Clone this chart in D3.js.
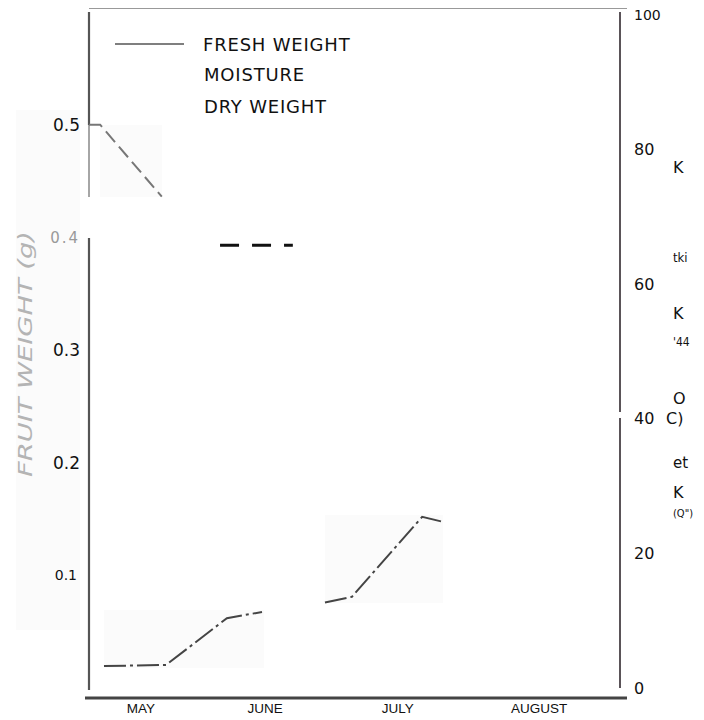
<!DOCTYPE html>
<html>
<head>
<meta charset="utf-8">
<script src="https://cdn.jsdelivr.net/npm/d3@7"></script>
<style>
  body { margin: 0; background: #fff; }
  svg { display: block; font-family: "DejaVu Sans", Verdana, sans-serif; }
</style>
</head>
<body>
<div id="chart"></div>
<script>
// Chart data
const months = ["MAY", "JUNE", "JULY", "AUGUST"];
const monthDays = [12, 41, 72, 105];          // label position, days from May 1
const weightTicks = [0.1, 0.2, 0.3, 0.4, 0.5];
const moistureTicks = [0, 20, 40, 60, 80, 100];

// moisture (%), null = break in the line
const moistureDays = [0, 2.6, 17, null, 30.6, 47.6];
const moistureVals = [83.7, 83.7, 73.0, null, 65.8, 65.8];

// dry weight (g)
const dryDays = [3.5, 18, 32.2, 40.4, null, 55.1, 61.4, 77.8, 82.2];
const dryVals = [0.0195, 0.0205, 0.062, 0.0675, null, 0.076, 0.081, 0.152, 0.148];

const legendItems = ["FRESH WEIGHT", "MOISTURE", "DRY WEIGHT"];
const rightNotes = [
    { t: "K", v: 77.4, s: 16 }, { t: "tki", v: 64, s: 13 }, { t: "K", v: 55.7, s: 16 },
    { t: "'44", v: 51.4, s: 12 }, { t: "O", v: 43, s: 16 }, { t: "et", v: 33.4, s: 15 },
    { t: "K", v: 29, s: 16 }, { t: "(Q\")", v: 26, s: 11 }
];

let width = 704, height = 720;

const svg = d3.select("#chart").append("svg")
    .attr("width", width)
    .attr("height", height);

const x = d3.scaleLinear().domain([0, 124]).range([89, 620]);
const yLeft = d3.scaleLinear().domain([0, 0.5]).range([688, 125]);
const yRight = d3.scaleLinear().domain([0, 100]).range([688, 15]);

// faint scan patches
const patches = [[16, 110, 64, 520], [104, 610, 160, 58], [325, 515, 118, 88], [100, 125, 62, 72]];
svg.selectAll(".patch").data(patches).join("rect")
    .attr("class", "patch")
    .attr("x", d => d[0]).attr("y", d => d[1])
    .attr("width", d => d[2]).attr("height", d => d[3])
    .attr("fill", "#fbfbfb");

// frame lines
svg.append("line").attr("x1", 89).attr("x2", 627).attr("y1", 8.5).attr("y2", 8.5)
    .attr("stroke", "#999").attr("stroke-width", 1.2);
const leftSegs = [[12, 125, "#555", 2.2], [125, 197, "#888", 1.5], [238, 690, "#555", 2.2]];
svg.selectAll(".lseg").data(leftSegs).join("line")
    .attr("class", "lseg")
    .attr("x1", 89).attr("x2", 89)
    .attr("y1", d => d[0]).attr("y2", d => d[1])
    .attr("stroke", d => d[2]).attr("stroke-width", d => d[3]);
const rightSegs = [[12, 412], [418, 688]];
svg.selectAll(".rseg").data(rightSegs).join("line")
    .attr("class", "rseg")
    .attr("x1", 620).attr("x2", 620)
    .attr("y1", d => d[0]).attr("y2", d => d[1])
    .attr("stroke", "#5a5358").attr("stroke-width", 2);
svg.append("line").attr("x1", 85).attr("x2", 627).attr("y1", 698).attr("y2", 698)
    .attr("stroke", "#444").attr("stroke-width", 3);

// Left axis
const leftAxis = svg.append("g")
    .attr("transform", "translate(80,0)")
    .call(d3.axisLeft(yLeft).tickValues(weightTicks).tickSize(0).tickPadding(0).tickFormat(d3.format(".1f")));
leftAxis.select(".domain").remove();
leftAxis.selectAll("text")
    .attr("font-family", "DejaVu Sans, sans-serif")
    .attr("font-size", d => d === 0.1 ? 14 : (d === 0.4 ? 15 : 17))
    .attr("fill", d => d === 0.4 ? "#999" : "#111")
    .attr("letter-spacing", d => d === 0.4 ? 2 : 0)
    .attr("dx", d => d === 0.1 ? -3 : 0);

// Right axis
const rightAxis = svg.append("g")
    .attr("transform", "translate(620,0)")
    .call(d3.axisRight(yRight).tickValues(moistureTicks).tickSize(0).tickPadding(14));
rightAxis.select(".domain").remove();
rightAxis.selectAll("text")
    .attr("font-family", "DejaVu Sans, sans-serif")
    .attr("font-size", d => d === 100 ? 14 : 16)
    .attr("fill", "#111");

svg.selectAll(".note").data(rightNotes).join("text")
    .attr("class", "note")
    .attr("x", 673)
    .attr("y", d => yRight(d.v))
    .attr("dy", "0.35em")
    .attr("font-size", d => d.s)
    .attr("font-family", d => d.s < 14 ? "Liberation Sans Narrow, DejaVu Sans Condensed, sans-serif" : "DejaVu Sans, sans-serif")
    .attr("fill", "#111")
    .text(d => d.t);
svg.append("text").attr("x", 666).attr("y", yRight(40)).attr("dy", "0.35em")
    .attr("font-size", 16).attr("fill", "#111").text("C)");

// Bottom axis
const bottomAxis = svg.append("g")
    .attr("transform", "translate(0,700)")
    .call(d3.axisBottom(x).tickValues(monthDays).tickSize(0).tickPadding(3).tickFormat((d, i) => months[i]));
bottomAxis.select(".domain").remove();
bottomAxis.selectAll("text")
    .attr("font-family", "Liberation Sans, Arial, sans-serif")
    .attr("font-size", 13.5)
    .attr("fill", "#111");

// Y axis title (faded, hand lettered)
svg.append("text")
    .attr("transform", "translate(25,354) rotate(-90)")
    .attr("text-anchor", "middle")
    .attr("dy", "0.35em")
    .attr("font-style", "italic")
    .attr("font-size", 20)
    .attr("textLength", 246)
    .attr("lengthAdjust", "spacingAndGlyphs")
    .attr("fill", "#b4b4b4")
    .text("FRUIT WEIGHT (g)");

// Moisture line
const moisturePts = moistureDays.map((d, i) => ({ d: d, v: moistureVals[i] }));
const firstPiece = moisturePts.slice(0, 3);
const secondPiece = moisturePts.slice(4);
const moistLine = d3.line().x(p => x(p.d)).y(p => yRight(p.v));
svg.append("path").datum(firstPiece)
    .attr("d", moistLine)
    .attr("fill", "none").attr("stroke", "#777").attr("stroke-width", 2)
    .attr("stroke-dasharray", "14,6");
svg.append("path").datum(secondPiece)
    .attr("d", moistLine)
    .attr("fill", "none").attr("stroke", "#111").attr("stroke-width", 3)
    .attr("stroke-dasharray", "19,13");

// Dry weight line
const dryPts = dryDays.map((d, i) => ({ d: d, v: dryVals[i] }));
svg.append("path").datum(dryPts)
    .attr("d", d3.line().defined(p => p.d !== null).x(p => x(p.d)).y(p => yLeft(p.v)))
    .attr("fill", "none").attr("stroke", "#444").attr("stroke-width", 2)
    .attr("stroke-dasharray", "22,4,3,4");

// Legend
svg.append("line").attr("x1", 115).attr("x2", 184).attr("y1", 44).attr("y2", 44)
    .attr("stroke", "#555").attr("stroke-width", 1.5);
svg.selectAll(".legend").data(legendItems).join("text")
    .attr("class", "legend")
    .attr("x", (d, i) => i === 0 ? 203 : 204)
    .attr("y", (d, i) => [45, 75, 107][i])
    .attr("dy", "0.35em")
    .attr("font-size", 18)
    .attr("letter-spacing", 0.8)
    .attr("fill", "#111")
    .text(d => d);
</script>
</body>
</html>
